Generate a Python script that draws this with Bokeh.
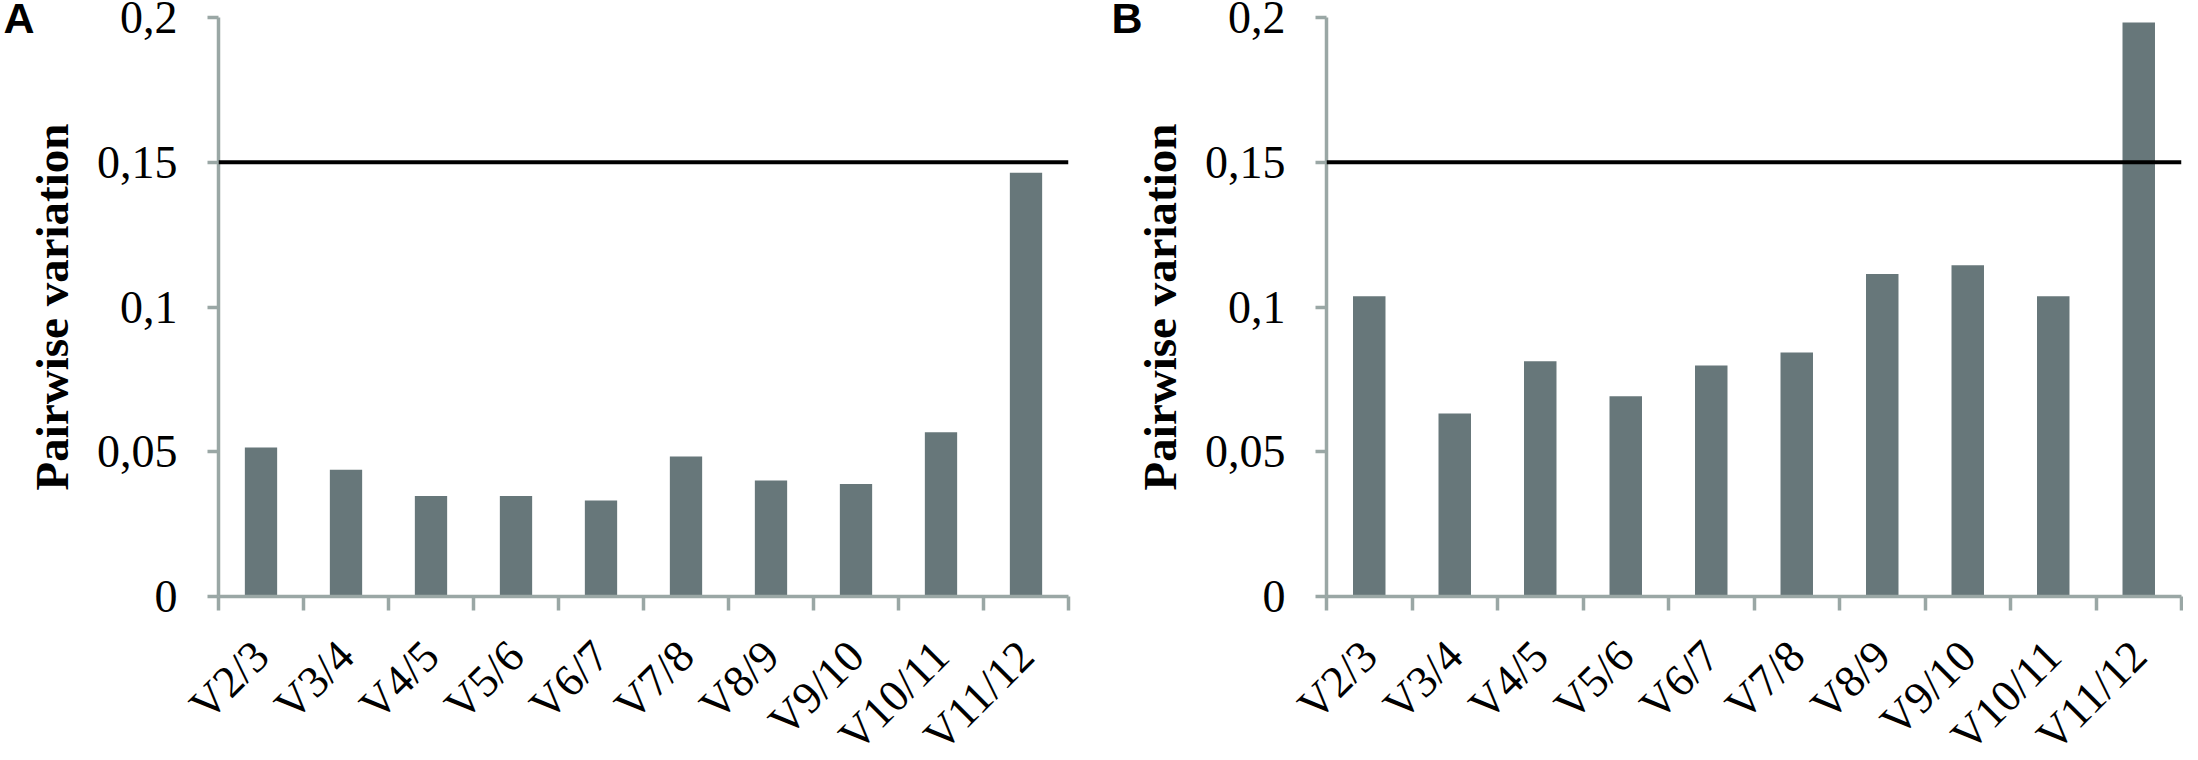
import math
from bokeh.plotting import figure
from bokeh.layouts import row
from bokeh.models import (Range1d, FactorRange, LinearAxis, CategoricalAxis, FixedTicker,
                          CustomJSTickFormatter, Span)
from bokeh.embed import file_html
from bokeh.resources import INLINE

# ---- data ----
categories = ["V2/3", "V3/4", "V4/5", "V5/6", "V6/7", "V7/8", "V8/9", "V9/10", "V10/11", "V11/12"]
values_a = [0.0515, 0.0438, 0.0347, 0.0347, 0.0332, 0.0484, 0.0401, 0.0389, 0.0567, 0.1464]
values_b = [0.1037, 0.0632, 0.0813, 0.0692, 0.0798, 0.0843, 0.1114, 0.1144, 0.1037, 0.1983]
threshold = 0.15
y_ticks = [0, 0.05, 0.1, 0.15, 0.2]
y_tick_labels = ["0", "0,05", "0,1", "0,15", "0,2"]
panel_letters = ["A", "B"]
y_axis_title = "Pairwise variation"

BAR = "#67777a"
AXIS = "#9aa7a5"
SERIF = "Liberation Serif"
TOP = 17
FRAME_H = 579
BOTTOM = 190

AXIS_PROPS = LinearAxis.properties()


def make_panel(vals, letter, border_left, border_right, width):
    p = figure(x_range=FactorRange(*categories, range_padding=0, factor_padding=0),
               y_range=Range1d(0, 0.2),
               width=width, height=TOP + FRAME_H + BOTTOM,
               min_border_left=border_left, min_border_right=border_right,
               min_border_top=TOP, min_border_bottom=BOTTOM,
               x_axis_location=None,
               output_backend="svg", toolbar_location=None)
    p.outline_line_color = None
    p.xgrid.grid_line_color = None
    p.ygrid.grid_line_color = None
    p.background_fill_color = "white"
    p.border_fill_color = "white"

    p.vbar(x=categories, top=vals, width=0.38, color=BAR, line_color=None)

    p.add_layout(Span(location=threshold, dimension="width", line_color="black", line_width=4))

    # y axis
    ya = p.yaxis[0]
    ya.ticker = FixedTicker(ticks=y_ticks, minor_ticks=[])
    ya.formatter = CustomJSTickFormatter(args=dict(vals=y_ticks, labs=y_tick_labels), code="""
        for (let i = 0; i < vals.length; i++) { if (Math.abs(vals[i] - tick) < 1e-9) return labs[i]; }
        return '';
    """)
    ya.axis_line_color = AXIS
    ya.axis_line_width = 3.5
    ya.major_tick_line_color = AXIS
    ya.major_tick_line_width = 3.5
    ya.major_tick_out = 11
    ya.major_tick_in = 0
    ya.minor_tick_line_color = None
    ya.major_label_text_font = SERIF
    ya.major_label_text_font_size = "46px"
    ya.major_label_text_color = "black"
    ya.major_label_standoff = 30
    ya.axis_label = y_axis_title
    ya.axis_label_text_font = SERIF
    ya.axis_label_text_font_style = "bold"
    ya.axis_label_text_font_size = "47px"
    ya.axis_label_text_color = "black"
    ya.axis_label_standoff = 16

    # panel letter, drawn as the label of an otherwise invisible outer left axis
    letter_kw = dict(axis_label=letter, axis_label_text_font="Liberation Sans",
                     axis_label_text_font_style="bold", axis_label_text_font_size="43px",
                     axis_label_text_color="black", axis_label_standoff=-12,
                     ticker=FixedTicker(ticks=[], minor_ticks=[]),
                     axis_line_color=None, major_tick_line_color=None, minor_tick_line_color=None,
                     major_tick_out=0, major_tick_in=0, major_label_standoff=0,
                     major_label_text_font_size="0px", major_label_text_color=None)
    if "axis_label_orientation" in AXIS_PROPS:
        letter_kw["axis_label_orientation"] = "horizontal"
    if "axis_label_align" in AXIS_PROPS:
        letter_kw["axis_label_align"] = "end"
    p.add_layout(LinearAxis(**letter_kw), "left")

    # x axis: tick marks at the category boundaries (synthetic coordinates 0..n)
    edge_axis = LinearAxis(ticker=FixedTicker(ticks=list(range(len(categories) + 1)), minor_ticks=[]),
                           major_tick_out=14, major_tick_in=0,
                           major_label_text_font_size="0px", major_label_text_color=None,
                           major_label_standoff=0,
                           axis_line_color=AXIS, axis_line_width=3.5,
                           major_tick_line_color=AXIS, major_tick_line_width=3.5,
                           minor_tick_line_color=None)
    p.add_layout(edge_axis, "below")
    cat_axis = CategoricalAxis(axis_line_color=None, major_tick_line_color=None,
                               major_tick_out=0, major_tick_in=0,
                               major_label_orientation=math.pi / 4,
                               major_label_standoff=38,
                               major_label_text_font=SERIF,
                               major_label_text_font_size="45px",
                               major_label_text_color="black")
    p.add_layout(cat_axis, "below")
    return p


pa = make_panel(values_a, panel_letters[0], 213, 18, 1086)
pb = make_panel(values_b, panel_letters[1], 240, 2, 1097)

layout = row(pa, pb, spacing=0)
open("out.html", "w").write(file_html(layout, INLINE))
